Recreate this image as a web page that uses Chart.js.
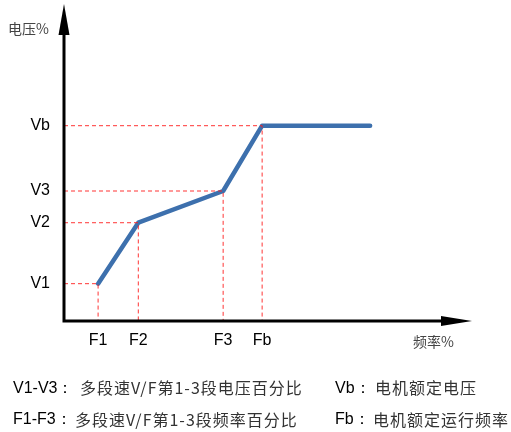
<!DOCTYPE html>
<html>
<head>
<meta charset="utf-8">
<script src="https://cdn.jsdelivr.net/npm/chart.js@4.4.1/dist/chart.umd.min.js"></script>
<style>
  html, body { margin: 0; padding: 0; background: #fff; }
  #wrap { position: relative; width: 511px; height: 432px; overflow: hidden; }
  canvas { position: absolute; left: 0; top: 0; }
  .t { position: absolute; white-space: nowrap; line-height: 1; }
  .lat { font-family: "Liberation Sans", Arial, sans-serif; font-size: 16px; color: #000; }
  .cjk { font-family: "Noto Sans CJK SC", sans-serif; font-size: 16px; letter-spacing: 1px; color: #333; }
</style>
</head>
<body>
<div id="wrap">
  <canvas id="vf" width="511" height="432"></canvas>
  <div class="t cjk" style="left:8px;top:21px;font-size:14px;letter-spacing:0;color:#444;">电压%</div>
  <div class="t cjk" style="left:413px;top:334px;font-size:14px;letter-spacing:0;color:#444;">频率%</div>

  <div class="t lat" style="left:13px;top:380px;">V1-V3：</div>
  <div class="t cjk" style="left:80px;top:379px;">多段速V/F第1-3段电压百分比</div>
  <div class="t lat" style="left:335px;top:380px;">Vb：</div>
  <div class="t cjk" style="left:375px;top:379px;">电机额定电压</div>

  <div class="t lat" style="left:13px;top:411px;">F1-F3：</div>
  <div class="t cjk" style="left:75px;top:411px;">多段速V/F第1-3段频率百分比</div>
  <div class="t lat" style="left:335px;top:411px;">Fb：</div>
  <div class="t cjk" style="left:373px;top:411px;">电机额定运行频率</div>
</div>
<script>
// V/F curve - multi-speed points (percent of axis range)
const freqLabels = ['F1', 'F2', 'F3', 'Fb'];
const voltLabels = ['V1', 'V2', 'V3', 'Vb'];
const freqValues = [8.4, 18.3, 39.2, 48.8];
const voltValues = [12.0, 31.6, 41.8, 62.8];
const endFreq = 75.4;

// curve points: F1..Fb then flat to the end
const curve = freqValues.map((f, i) => ({ x: f, y: voltValues[i] }));
curve.push({ x: endFreq, y: voltValues[voltValues.length - 1] });

// dashed guide lines: from y axis to the point and down to x axis
const guides = freqValues.map((f, i) => ({
    type: 'line',
    data: [{ x: 0, y: voltValues[i] }, { x: f, y: voltValues[i] }, { x: f, y: 0 }],
    borderColor: 'rgba(255, 30, 30, 0.9)',
    borderWidth: 1,
    borderDash: [4, 3],
    pointRadius: 0,
    fill: false,
    tension: 0
}));

// axes with arrow heads
const arrowAxes = {
    id: 'arrowAxes',
    afterDatasetsDraw(chart) {
        const ctx = chart.ctx;
        const a = chart.chartArea;
        ctx.save();
        ctx.strokeStyle = '#000';
        ctx.fillStyle = '#000';
        ctx.lineWidth = 3;
        ctx.beginPath();
        ctx.moveTo(a.left, a.bottom + 1.5);
        ctx.lineTo(a.left, 33);
        ctx.moveTo(a.left - 1.5, a.bottom);
        ctx.lineTo(442, a.bottom);
        ctx.stroke();
        // y arrow
        ctx.beginPath();
        ctx.moveTo(a.left, 4);
        ctx.lineTo(a.left - 5.5, 35);
        ctx.lineTo(a.left + 5.5, 35);
        ctx.closePath();
        ctx.fill();
        // x arrow
        ctx.beginPath();
        ctx.moveTo(472, a.bottom);
        ctx.lineTo(441, a.bottom - 5);
        ctx.lineTo(441, a.bottom + 5);
        ctx.closePath();
        ctx.fill();
        ctx.restore();
    }
};

new Chart(document.getElementById('vf'), {
    type: 'line',
    data: {
        datasets: [
            ...guides,
            {
                data: curve,
                borderColor: '#3d70ad',
                borderWidth: 4.5,
                pointRadius: 0,
                fill: false,
                tension: 0,
                borderCapStyle: 'round',
                borderJoinStyle: 'round'
            },
            {
                data: curve,
                borderColor: '#d2e2f5',
                borderWidth: 1.2,
                pointRadius: 0,
                fill: false,
                tension: 0
            }
        ]
    },
    options: {
        responsive: false,
        animation: false,
        events: [],
        layout: { padding: { left: 0, top: 10, right: 41, bottom: 0 } },
        plugins: { legend: { display: false }, tooltip: { enabled: false } },
        scales: {
            x: {
                type: 'linear',
                min: 0,
                max: 100,
                grid: { display: false, drawTicks: false },
                border: { display: false },
                afterFit(scale) {
                    scale.height = 111;
                    scale.paddingLeft = 0;
                    scale.paddingRight = 0;
                },
                afterBuildTicks(scale) { scale.ticks = freqValues.map(v => ({ value: v })); },
                ticks: {
                    padding: 10,
                    maxRotation: 0,
                    autoSkip: false,
                    color: '#000',
                    font: { family: '"Liberation Sans", Arial, sans-serif', size: 16 },
                    callback: (v) => freqLabels[freqValues.indexOf(v)]
                }
            },
            y: {
                type: 'linear',
                min: 0,
                max: 100,
                grid: { display: false, drawTicks: false },
                border: { display: false },
                afterFit(scale) {
                    scale.width = 64;
                    scale.paddingTop = 0;
                    scale.paddingBottom = 0;
                },
                afterBuildTicks(scale) { scale.ticks = voltValues.map(v => ({ value: v })); },
                ticks: {
                    padding: 14,
                    autoSkip: false,
                    color: '#000',
                    font: { family: '"Liberation Sans", Arial, sans-serif', size: 16 },
                    callback: (v) => voltLabels[voltValues.indexOf(v)]
                }
            }
        }
    },
    plugins: [arrowAxes]
});
</script>
</body>
</html>
